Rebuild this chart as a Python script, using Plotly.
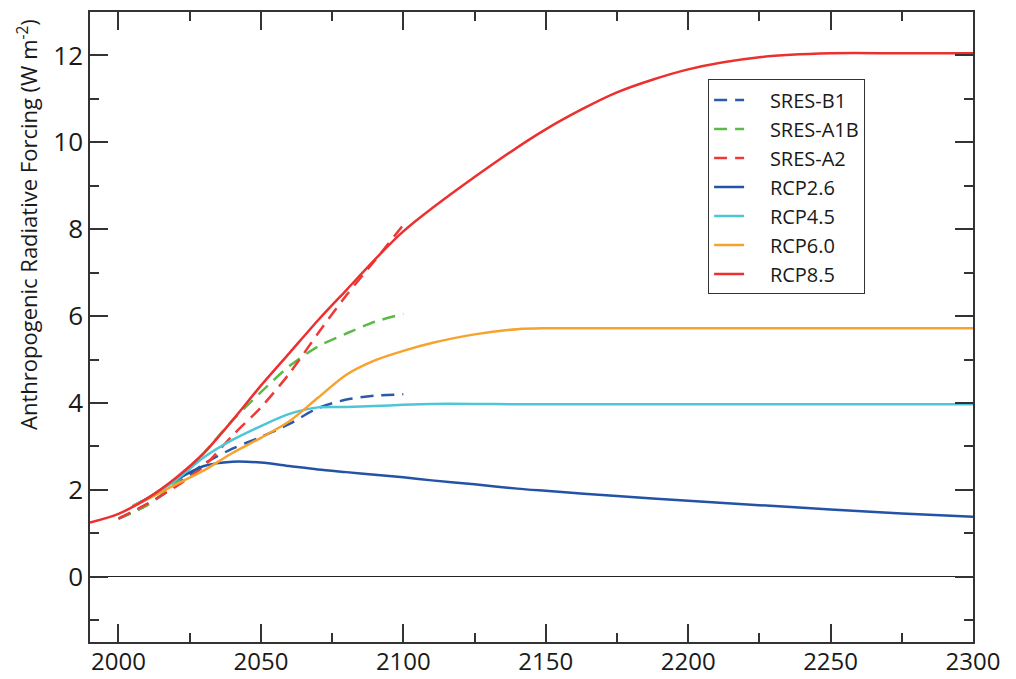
import plotly.graph_objects as go

# ---- data ----
sres_years = [2000, 2010, 2020, 2030, 2040, 2050, 2060, 2070, 2080, 2090, 2100]
sres_b1 = [1.34, 1.65, 2.10, 2.60, 2.95, 3.22, 3.52, 3.88, 4.08, 4.17, 4.20]
sres_a1b = [1.34, 1.65, 2.15, 2.85, 3.60, 4.25, 4.85, 5.30, 5.60, 5.87, 6.05]
sres_a2 = [1.34, 1.68, 2.07, 2.55, 3.25, 3.90, 4.68, 5.60, 6.48, 7.28, 8.10]

rcp85_years = [1990, 2000, 2010, 2020, 2030, 2040, 2050, 2060, 2070, 2080, 2090, 2100,
               2125, 2150, 2175, 2200, 2225, 2250, 2275, 2300]
rcp85 = [1.25, 1.45, 1.80, 2.27, 2.85, 3.60, 4.40, 5.15, 5.90, 6.60, 7.30, 7.95,
         9.20, 10.30, 11.15, 11.68, 11.96, 12.05, 12.05, 12.05]

rcp_years = [2005, 2010, 2020, 2030, 2040, 2050, 2060, 2070, 2080, 2090, 2100,
             2110, 2125, 2140, 2150, 2175, 2200, 2225, 2250, 2275, 2300]
rcp60 = [1.63, 1.78, 2.12, 2.45, 2.85, 3.20, 3.58, 4.12, 4.65, 4.98, 5.20,
         5.38, 5.58, 5.70, 5.72, 5.72, 5.72, 5.72, 5.72, 5.72, 5.72]
rcp45 = [1.63, 1.80, 2.22, 2.75, 3.15, 3.47, 3.75, 3.90, 3.91, 3.93, 3.96,
         3.98, 3.98, 3.97, 3.97, 3.97, 3.97, 3.97, 3.97, 3.97, 3.97]
rcp26 = [1.63, 1.80, 2.22, 2.55, 2.65, 2.63, 2.55, 2.47, 2.41, 2.35, 2.29,
         2.22, 2.13, 2.03, 1.98, 1.86, 1.75, 1.65, 1.55, 1.46, 1.38]

x_ticks = [2000, 2050, 2100, 2150, 2200, 2250, 2300]
y_ticks = [0, 2, 4, 6, 8, 10, 12]

FONT = "Open Sans"
dash = "13px,8px"
PAD = "\u00a0\u00a0\u00a0\u00a0"

fig = go.Figure()

def add(name, x, y, color, dashed):
    fig.add_trace(go.Scatter(
        x=x, y=y, name=PAD + name, mode="lines",
        line=dict(color=color, width=2.5, dash=dash if dashed else "solid",
                  shape="spline", smoothing=0.8),
    ))

add("SRES-B1", sres_years, sres_b1, "#2b5aa8", True)
add("SRES-A1B", sres_years, sres_a1b, "#5cba47", True)
add("SRES-A2", sres_years, sres_a2, "#ee3a36", True)
add("RCP2.6", rcp_years, rcp26, "#2353a6", False)
add("RCP4.5", rcp_years, rcp45, "#4ec5d8", False)
add("RCP6.0", rcp_years, rcp60, "#f8a22e", False)
add("RCP8.5", rcp85_years, rcp85, "#ec2f2f", False)

axis_common = dict(
    showline=True, linecolor="#333333", linewidth=1.5, mirror="allticks",
    ticks="inside", tickcolor="#333333", tickwidth=1.5, ticklen=18,
    showgrid=False, automargin=False,
)

fig.update_xaxes(
    range=[1990, 2300], tickvals=x_ticks, zeroline=False,
    tickfont=dict(family=FONT, size=24, color="#1a1a1a"),
    ticklabelstandoff=-3,
    minor=dict(dtick=25, tick0=2000, ticks="inside", ticklen=9,
               tickcolor="#333333", tickwidth=1.5, showgrid=False),
    **axis_common,
)
fig.update_yaxes(
    range=[-1.5, 13], tickvals=y_ticks,
    tickfont=dict(family=FONT, size=26, color="#1a1a1a"),
    zeroline=True, zerolinecolor="#222222", zerolinewidth=1.2,
    minor=dict(dtick=1, tick0=1, ticks="inside", ticklen=9,
               tickcolor="#333333", tickwidth=1.5, showgrid=False),
    **axis_common,
)

fig.add_annotation(
    text="Anthropogenic Radiative Forcing (W m<sup>-2</sup>)",
    xref="paper", yref="paper", x=-0.0702, y=0.662,
    xanchor="center", yanchor="middle", textangle=-90, showarrow=False,
    font=dict(family=FONT, size=22, color="#1a1a1a"),
)

fig.update_layout(
    width=1016, height=679,
    margin=dict(l=90, r=43, t=12, b=37),
    paper_bgcolor="white", plot_bgcolor="white",
    showlegend=True,
    legend=dict(x=0.70, y=0.893, xanchor="left", yanchor="top",
                bgcolor="white", bordercolor="#333333", borderwidth=1,
                font=dict(family=FONT, size=20, color="#1a1a1a"),
                tracegroupgap=0),
)

fig.write_html("out.html")
